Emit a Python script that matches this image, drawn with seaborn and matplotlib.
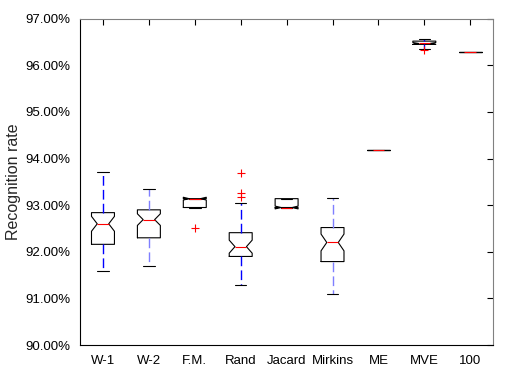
import numpy as np
import matplotlib
matplotlib.use("Agg")
import matplotlib.pyplot as plt
import seaborn as sns
from matplotlib.ticker import FuncFormatter

# =============================================================================
# DATA (recognition rate in %)
# =============================================================================

methods = ["W-1", "W-2", "F.M.", "Rand", "Jacard", "Mirkins", "ME", "MVE", "100"]

whis_lo = [91.58, 91.70, 92.95, 91.28, 92.95, 91.09, 94.19, 96.35, 96.28]
q1      = [92.16, 92.30, 92.95, 91.90, 92.95, 91.79, 94.19, 96.45, 96.28]
median  = [92.60, 92.69, 93.14, 92.11, 92.95, 92.20, 94.19, 96.47, 96.28]
q3      = [92.84, 92.90, 93.14, 92.41, 93.14, 92.52, 94.19, 96.52, 96.28]
whis_hi = [93.72, 93.35, 93.14, 93.04, 93.14, 93.16, 94.19, 96.57, 96.28]
notch   = [0.16, 0.125, 0.03, 0.14, 0.03, 0.18, 0.0, 0.02, 0.0]

outliers = [[], [], [92.51], [93.68, 93.27, 93.17], [], [], [], [96.33], []]

whisker_colors = ["#0000ff", "#7f7fff", "#0000ff", "#0000ff", "#0000ff",
                  "#7f7fff", "#0000ff", "#0000ff", "#0000ff"]

# =============================================================================
# PLOT
# =============================================================================

sns.set_style("white")
plt.rcParams["font.family"] = ["Liberation Sans", "DejaVu Sans"]

fig = plt.figure(figsize=(5.23, 3.75), dpi=100)
ax = fig.add_axes([0.153, 0.08, 0.79, 0.87])

stats = []
for i, name in enumerate(methods):
    stats.append({
        "label": name,
        "whislo": whis_lo[i],
        "q1": q1[i],
        "med": median[i],
        "q3": q3[i],
        "whishi": whis_hi[i],
        "cilo": median[i] - notch[i],
        "cihi": median[i] + notch[i],
        "fliers": outliers[i],
    })

lw = 0.8
art = ax.bxp(
    stats,
    positions=np.arange(1, len(methods) + 1),
    widths=0.5,
    shownotches=True,
    boxprops=dict(color="black", linewidth=lw),
    medianprops=dict(color="red", linewidth=lw),
    capprops=dict(color="black", linewidth=lw),
    whiskerprops=dict(linestyle=(0, (7, 3)), linewidth=1.0),
    flierprops=dict(marker="+", markeredgecolor="red", markersize=6,
                    markeredgewidth=lw, linestyle="none"),
)

for i, c in enumerate(whisker_colors):
    art["whiskers"][2 * i].set_color(c)
    art["whiskers"][2 * i + 1].set_color(c)

ax.set_xlim(0.5, len(methods) + 0.5)
ax.set_ylim(90, 97)
ax.set_yticks(np.arange(90, 97.5, 1))
ax.yaxis.set_major_formatter(FuncFormatter(lambda v, p: f"{v:.2f}%"))
ax.set_xticks(np.arange(1, len(methods) + 1))
ax.set_xticklabels(methods)

ax.set_ylabel("Recognition rate", fontsize=11.5, labelpad=3)
ax.tick_params(direction="in", top=True, right=True, length=4, width=lw,
               labelsize=9.5, colors="black", pad=7)

for side in ["left", "bottom"]:
    ax.spines[side].set_color("black")
for side in ["top", "right"]:
    ax.spines[side].set_color("#808080")
for s in ax.spines.values():
    s.set_linewidth(lw)

plt.savefig("out.png", dpi=100)
plt.close()
